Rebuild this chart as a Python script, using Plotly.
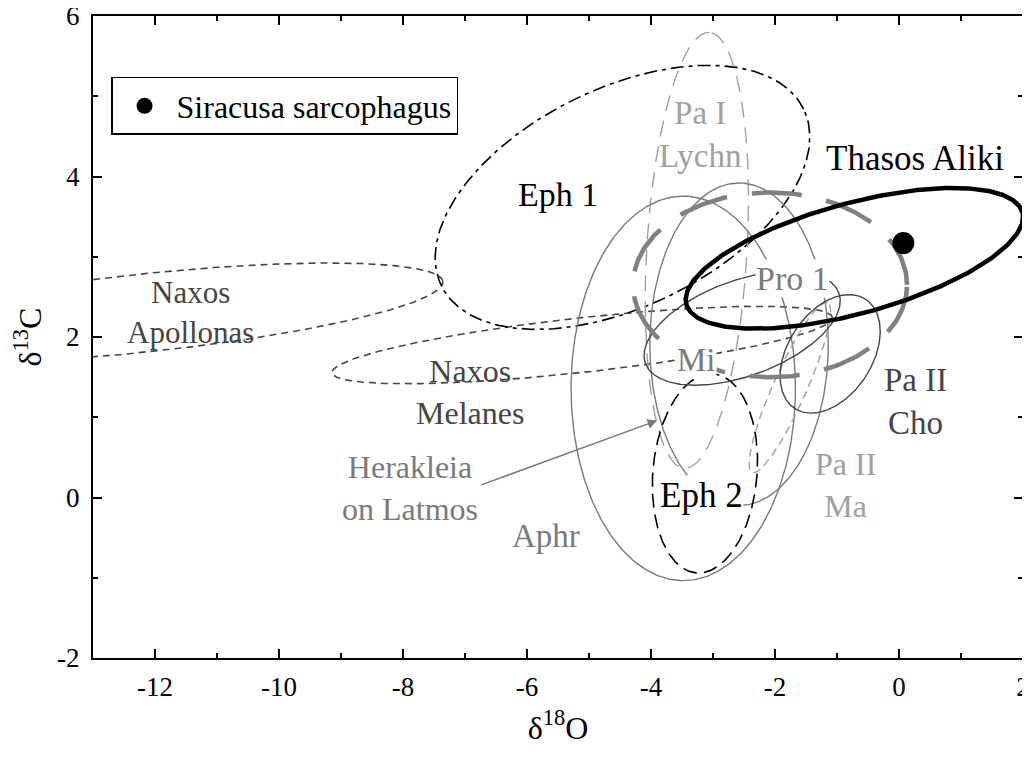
import numpy as np
import plotly.graph_objects as go

# ---------------- data ----------------
# ellipse fields (delta18O, delta13C): centre, semi-axes (in delta18O-equivalent units), tilt (deg)
field_names = ["Naxos Apollonas", "Naxos Melanes", "Eph 1", "Pa I Lychn", "Aphr",
               "Herakleia on Latmos", "Eph 2", "Pa II Ma", "Mi", "Pa II Cho", "Pro 1", "Thasos Aliki"]
centre_x = [-12.17, -5.11, -4.46, -3.26, -3.48, -2.58, -3.13, -1.76, -2.53, -1.11, -2.08, -0.72]
centre_y = [2.30, 1.90, 3.74, 3.08, 1.36, 1.91, 0.30, 1.37, 2.11, 1.79, 2.65, 2.98]
semi_major = [4.84, 4.06, 3.25, 3.52, 3.10, 2.60, 1.61, 1.50, 1.66, 1.05, 2.21, 2.81]
semi_minor = [0.63, 0.44, 1.76, 0.81, 1.81, 1.44, 0.84, 0.27, 0.77, 0.68, 1.49, 0.89]
tilt_deg = [6.0, 6.3, 26.0, 86.7, 90.0, 90.0, 85.0, 66.0, 20.0, 57.0, 0.0, 15.3]

sample_name = "Siracusa sarcophagus"
sample_x = [0.07]
sample_y = [3.17]

label_text = ["Naxos<br>Apollonas", "Naxos<br>Melanes", "Eph 1", "Pa I<br>Lychn", "Aphr",
              "Herakleia<br>on Latmos", "Eph 2", "Pa II<br>Ma", "Mi", "Pa II<br>Cho", "Pro 1", "Thasos Aliki"]
label_x = [-11.42, -6.92, -5.50, -3.21, -5.69, -7.89, -3.18, -0.87, -3.26, 0.27, -1.71, 0.26]
label_y = [2.30, 1.31, 3.77, 4.52, -0.48, 0.12, 0.02, 0.15, 1.71, 1.20, 2.73, 4.23]
label_size = [31, 32, 34, 33, 33, 32, 35, 32, 33, 33, 34, 35]

arrow_tail = (-6.76, 0.15)
arrow_head = (-3.90, 0.96)

x_ticks = [-12, -10, -8, -6, -4, -2, 0, 2]
y_ticks = [-2, 0, 2, 4, 6]

# ---------------- styles ----------------
DARK = "#454545"
MID = "#7a7a7a"
LIGHT = "#a0a0a0"
styles = {
    "Naxos Apollonas": dict(color=DARK, width=1.6, dash="7px,5px"),
    "Naxos Melanes": dict(color=DARK, width=1.6, dash="7px,5px"),
    "Eph 1": dict(color="black", width=1.6, dash="13px,5px,4px,5px"),
    "Pa I Lychn": dict(color=LIGHT, width=1.4, dash="16px,10px"),
    "Aphr": dict(color=MID, width=1.4),
    "Herakleia on Latmos": dict(color=MID, width=1.4),
    "Eph 2": dict(color="black", width=1.6, dash="14px,7px"),
    "Pa II Ma": dict(color=LIGHT, width=1.4, dash="8px,5px"),
    "Mi": dict(color=DARK, width=1.4),
    "Pa II Cho": dict(color=DARK, width=1.4),
    "Pro 1": dict(color="#808080", width=4.5, dash="50px,25px"),
    "Thasos Aliki": dict(color="black", width=4.5),
}
label_colors = {
    "Naxos Apollonas": DARK, "Naxos Melanes": DARK, "Eph 1": "black", "Pa I Lychn": LIGHT,
    "Aphr": MID, "Herakleia on Latmos": MID, "Eph 2": "black", "Pa II Ma": LIGHT,
    "Mi": MID, "Pa II Cho": DARK, "Pro 1": MID, "Thasos Aliki": "black",
}
label_bg = {"Mi", "Pro 1", "Eph 2"}

FONT = "Liberation Serif"
ASPECT = 80.2 / 61.98  # display ratio of one delta13C unit to one delta18O unit

t = np.linspace(0, 2 * np.pi, 400)


def ellipse(cx, cy, a, b, deg):
    th = np.deg2rad(deg)
    u = a * np.cos(t)
    v = b * np.sin(t)
    x = cx + u * np.cos(th) - v * np.sin(th)
    y = cy + (u * np.sin(th) + v * np.cos(th)) / ASPECT
    return x, y


fig = go.Figure()
for i, name in enumerate(field_names):
    ex, ey = ellipse(centre_x[i], centre_y[i], semi_major[i], semi_minor[i], tilt_deg[i])
    fig.add_trace(go.Scatter(x=ex, y=ey, mode="lines", line=styles[name],
                             name=name, showlegend=False, hoverinfo="name"))

fig.add_trace(go.Scatter(x=sample_x, y=sample_y, mode="markers", name=sample_name,
                         marker=dict(color="black", size=22), showlegend=True))

annotations = []
for i, name in enumerate(field_names):
    annotations.append(dict(
        x=label_x[i], y=label_y[i], xref="x", yref="y", text=label_text[i], showarrow=False,
        font=dict(family=FONT, size=label_size[i], color=label_colors[name]),
        bgcolor="white" if name in label_bg else None, borderpad=0,
        xanchor="center", yanchor="middle"))
annotations.append(dict(
    x=arrow_head[0], y=arrow_head[1], ax=arrow_tail[0], ay=arrow_tail[1],
    xref="x", yref="y", axref="x", ayref="y", text="", showarrow=True,
    arrowhead=2, arrowsize=1.3, arrowwidth=1.5, arrowcolor=MID))

axis_common = dict(
    showgrid=False, zeroline=False, showline=True, linecolor="black", linewidth=2,
    mirror="allticks", ticks="inside", ticklen=9, tickwidth=1.5, tickcolor="black",
    tickfont=dict(family=FONT, size=27, color="black"), automargin=False,
    ticklabeloverflow="allow",
)

fig.update_layout(
    width=1022, height=750,
    margin=dict(l=85, r=7, t=8, b=100),
    paper_bgcolor="white", plot_bgcolor="white",
    font=dict(family=FONT, color="black"),
    showlegend=True,
    legend=dict(x=0.0194, y=0.905, xanchor="left", yanchor="top", itemwidth=54,
                bordercolor="black", borderwidth=1.5, bgcolor="white",
                font=dict(family=FONT, size=32, color="black")),
    annotations=annotations,
    xaxis=dict(range=[-13, 2], tickmode="array", tickvals=x_ticks,
               ticktext=[str(v) for v in x_ticks],
               minor=dict(ticks="inside", ticklen=5, tickwidth=1.5, tickcolor="black",
                          tickmode="linear", tick0=-13, dtick=1, showgrid=False),
               ticklabelstandoff=4,
               title=dict(text="\u03b4<sup>18</sup>O", font=dict(family=FONT, size=32)),
               **axis_common),
    yaxis=dict(range=[-2, 6], tickmode="array", tickvals=y_ticks,
               ticktext=[str(v) for v in y_ticks],
               minor=dict(ticks="inside", ticklen=5, tickwidth=1.5, tickcolor="black",
                          tickmode="linear", tick0=-2, dtick=1, showgrid=False),
               ticklabelstandoff=6,
               title=dict(text="\u03b4<sup>13</sup>C", font=dict(family=FONT, size=32)),
               **axis_common),
)

fig.write_html("out.html")
